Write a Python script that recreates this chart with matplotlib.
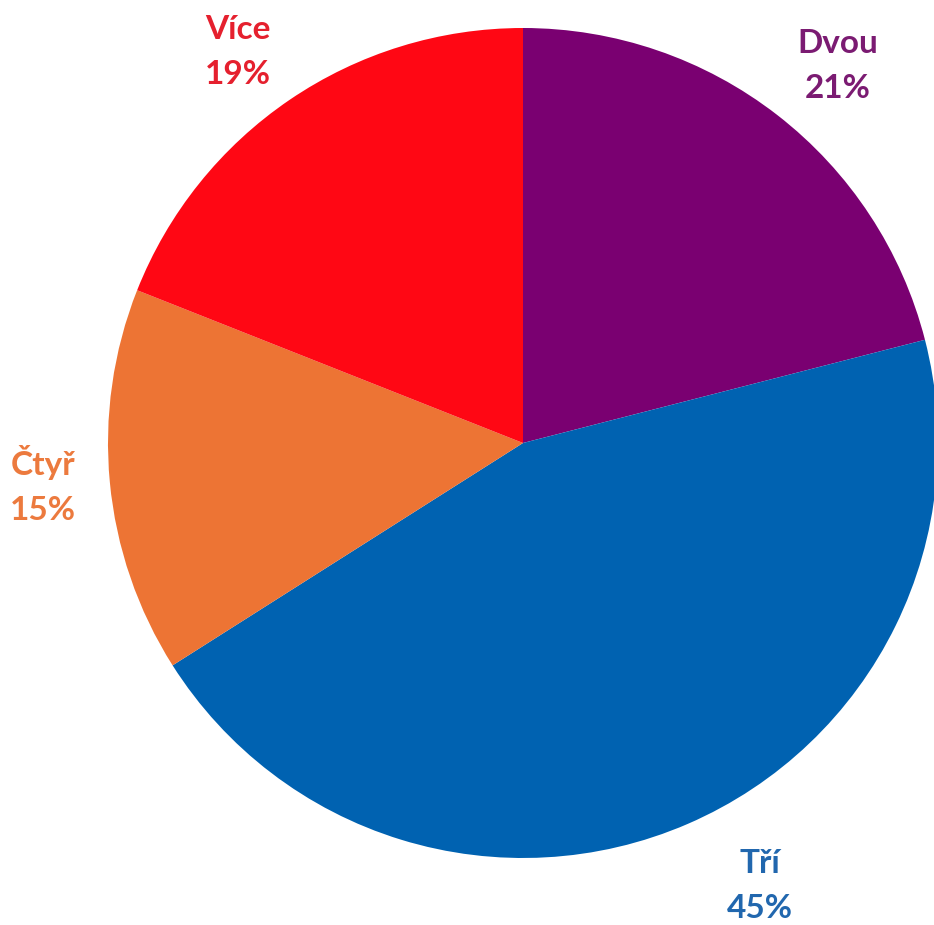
import matplotlib
matplotlib.use("Agg")
import matplotlib.pyplot as plt

categories = ["Dvou", "Tří", "Čtyř", "Více"]
shares = [21, 45, 15, 19]
colors = ["#7A0071", "#0062B1", "#ED7434", "#FF0714"]
text_colors = ["#7B1B72", "#2167AE", "#EC7A3E", "#E5202E"]

W, H = 934, 925
fig = plt.figure(figsize=(W / 100, H / 100), dpi=100)
ax = fig.add_axes([0, 0, 1, 1])

cx, cy, r = 523, H - 443, 415
ax.pie(shares, colors=colors, startangle=90, counterclock=False,
       center=(cx, cy), radius=r, frame=True,
       wedgeprops=dict(linewidth=0))
ax.set_xlim(0, W)
ax.set_ylim(0, H)
ax.set_aspect("auto")
ax.axis("off")

# label centres in pixel coords (from top-left)
label_pos = [(838, 66), (760, 886), (43, 485), (238, 52)]
for cat, val, col, (px, py) in zip(categories, shares, text_colors, label_pos):
    ax.text(px, H - py, f"{cat}\n{val}%", color=col, ha="center", va="center",
            fontsize=24, fontweight="bold", family="Lato", linespacing=1.7)

fig.savefig("out.png", dpi=100)
